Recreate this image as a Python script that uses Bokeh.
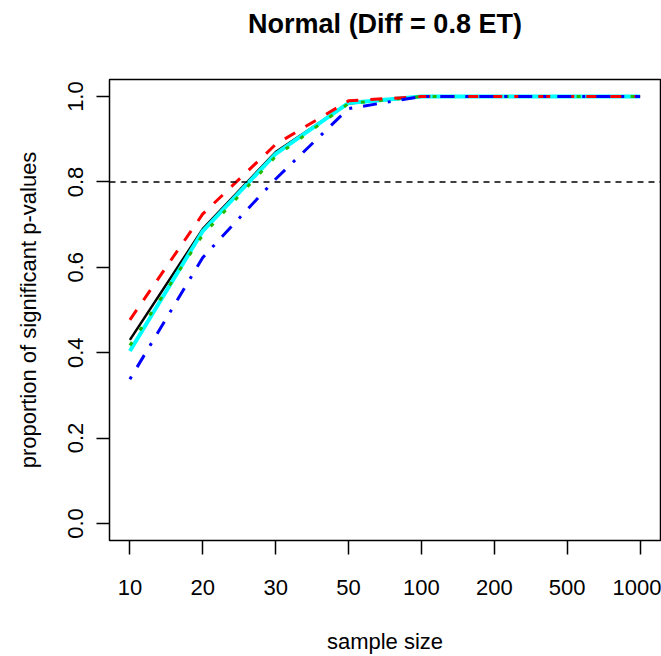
from bokeh.plotting import figure
from bokeh.models import Range1d, FixedTicker, PrintfTickFormatter, Span, Title
from bokeh.embed import file_html
from bokeh.resources import INLINE

# ---- data ----
sample_sizes = [10, 20, 30, 50, 100, 200, 500, 1000]
tick_labels = [str(s) for s in sample_sizes]
x_pos = list(range(len(sample_sizes)))

black_vals = [0.430, 0.690, 0.870, 0.984, 1.0, 1.0, 1.0, 1.0]
red_vals = [0.477, 0.725, 0.888, 0.990, 1.0, 1.0, 1.0, 1.0]
green_vals = [0.417, 0.676, 0.860, 0.984, 1.0, 1.0, 1.0, 1.0]
blue_vals = [0.338, 0.623, 0.807, 0.972, 1.0, 1.0, 1.0, 1.0]
cyan_vals = [0.404, 0.685, 0.866, 0.985, 1.0, 1.0, 1.0, 1.0]

y_ticks = [0.0, 0.2, 0.4, 0.6, 0.8, 1.0]
threshold = 0.8

FONT = "Liberation Sans"

p = figure(
    width=661, height=656,
    output_backend="svg", toolbar_location=None,
    x_range=Range1d(-0.28, 7.28), y_range=Range1d(-0.04, 1.04),
    min_border_left=109, min_border_right=1,
    min_border_top=79, min_border_bottom=114,
    title="Normal (Diff = 0.8 ET)",
)
p.background_fill_color = "white"
p.border_fill_color = "white"
p.grid.visible = False
p.outline_line_color = "black"
p.outline_line_width = 1.5

p.title.text_font = FONT
p.title.text_font_size = "27px"
p.title.text_font_style = "bold"
p.title.align = "center"
p.title.vertical_align = "top"
p.title.text_color = "black"
p.title.standoff = 0

# invisible spacer panel between the title and the plot frame
spacer = Title(text=" ", text_font_size="1px", standoff=36)
p.add_layout(spacer, "above")

# x axis
p.xaxis.ticker = FixedTicker(ticks=x_pos)
p.xaxis.major_label_overrides = {i: lab for i, lab in zip(x_pos, tick_labels)}
p.xaxis.axis_label = "sample size"
p.xaxis.major_tick_out = 14
p.xaxis.major_label_standoff = 25
p.xaxis.axis_label_standoff = 31

# y axis
p.yaxis.ticker = FixedTicker(ticks=y_ticks)
p.yaxis.formatter = PrintfTickFormatter(format="%.1f")
p.yaxis.axis_label = "proportion of significant p-values"
p.yaxis.major_label_orientation = "vertical"
p.yaxis.major_tick_out = 13
p.yaxis.major_label_standoff = 13
p.yaxis.axis_label_standoff = 25

for ax in (p.xaxis[0], p.yaxis[0]):
    ax.axis_line_color = None
    ax.major_tick_in = 0
    ax.minor_tick_line_color = None
    ax.major_tick_line_color = "black"
    ax.major_tick_line_width = 1.5
    ax.major_label_text_font = FONT
    ax.major_label_text_font_size = "22px"
    ax.major_label_text_color = "black"
    ax.axis_label_text_font = FONT
    ax.axis_label_text_font_size = "22px"
    ax.axis_label_text_font_style = "normal"
    ax.axis_label_text_color = "black"

# reference line at 0.8
p.add_layout(Span(location=threshold, dimension="width", line_color="black",
                  line_width=1.5, line_dash="6 5"))

# series
p.line(x_pos, black_vals, line_color="black", line_width=2.5)
p.line(x_pos, cyan_vals, line_color="cyan", line_width=4)
p.line(x_pos, green_vals, line_color="#22bb00", line_width=3, line_dash="4 14")
p.line(x_pos, red_vals, line_color="red", line_width=3, line_dash="12 12")
p.line(x_pos, blue_vals, line_color="blue", line_width=3, line_dash="3 11 14 11")

open("out.html", "w").write(file_html(p, INLINE))
